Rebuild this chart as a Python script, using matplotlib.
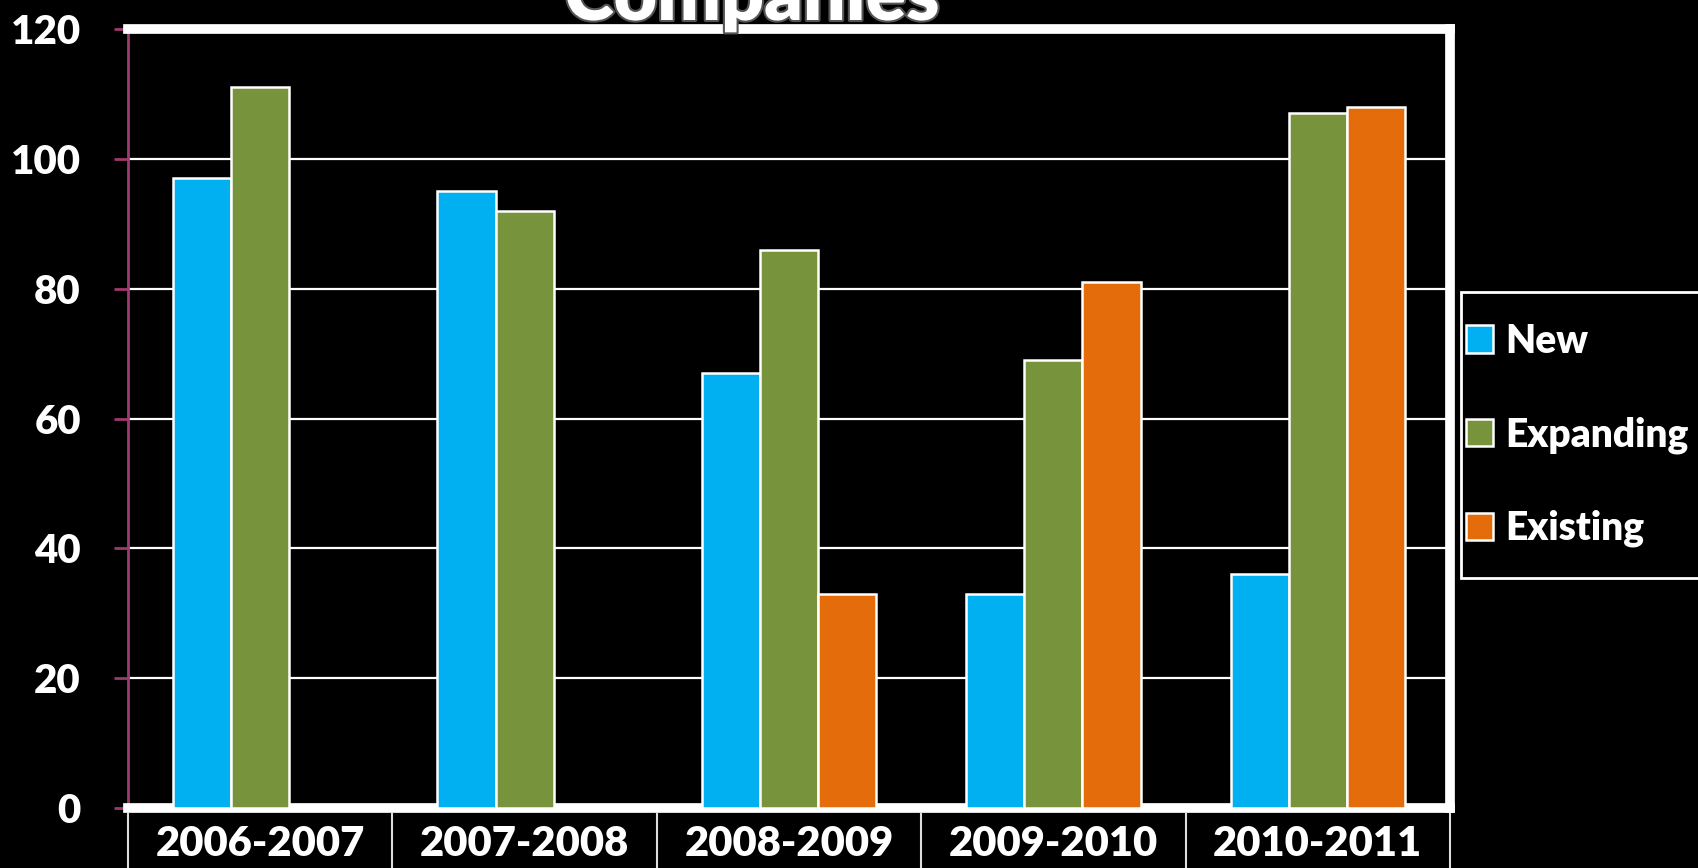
import numpy as np
import matplotlib.pyplot as plt
import matplotlib.patheffects as pe
from matplotlib.patches import Rectangle

plt.rcParams['font.family'] = ['Lato', 'DejaVu Sans']
plt.rcParams['font.weight'] = 'heavy'

# data
years = ['2006-2007', '2007-2008', '2008-2009', '2009-2010', '2010-2011']
new = [97, 95, 67, 33, 36]
expanding = [111, 92, 86, 69, 107]
existing = [np.nan, np.nan, 33, 81, 108]
series_names = ['New', 'Expanding', 'Existing']
colors = ['#00B0F0', '#77933C', '#E46C0A']
yticks = [0, 20, 40, 60, 80, 100, 120]

W, H = 1699, 868
fig = plt.figure(figsize=(W / 100, H / 100), dpi=100, facecolor='black')
ax = fig.add_axes([128 / W, (H - 808) / H, (1450 - 128) / W, (808 - 29) / H])
ax.set_facecolor('black')

x = np.arange(len(years))
bw = 0.22
handles = []
for i, (vals, col, name) in enumerate(zip([new, expanding, existing], colors, series_names)):
    b = ax.bar(x + (i - 1) * bw, vals, bw, color=col, edgecolor='white',
               linewidth=1.8, label=name, zorder=3)
    handles.append(b)

ax.set_xlim(-0.5, len(years) - 0.5)
ax.set_ylim(0, 120)
ax.set_yticks(yticks)
ax.set_yticklabels([str(t) for t in yticks], color='white', fontsize=29, fontweight='heavy')
ax.yaxis.grid(True, color='white', linewidth=1.6, zorder=0)
ax.set_axisbelow(True)

# frame: thick white on top/right/bottom, magenta axis on the left
for s in ['top', 'right', 'bottom']:
    ax.spines[s].set_color('white')
    ax.spines[s].set_linewidth(7)
ax.spines['left'].set_color('#9E3A6E')
ax.spines['left'].set_linewidth(2)
ax.tick_params(axis='y', colors='#9E3A6E', length=10, width=2, pad=24,
               labelcolor='white')
ax.set_xticks([])

# category label boxes below the plot
for k in range(len(years) + 1):
    ax.plot([k - 0.5, k - 0.5], [-1.0, -10], color='#DDDDDD', linewidth=1.5,
            clip_on=False, zorder=1)
for k, lab in enumerate(years):
    ax.text(k, -5.6, lab, ha='center', va='center', color='white',
            fontsize=30, fontweight='heavy', clip_on=False)

# title (mostly cut off at the top)
fig.text(752 / W, (H - 20) / H, 'Companies', ha='center', va='baseline',
         color='white', fontsize=54, fontweight='heavy',
         path_effects=[pe.withStroke(linewidth=3, foreground='#555555')])

# legend box running off the right edge
fig.patches.append(Rectangle((1461 / W, (H - 578) / H), 300 / W, 286 / H,
                             transform=fig.transFigure, facecolor='black',
                             edgecolor='white', linewidth=2))
leg = fig.legend(handles=handles, labels=series_names, loc='center left',
                 bbox_to_anchor=(1466 / W, (H - 435) / H), frameon=False,
                 fontsize=28, labelcolor='white', handlelength=0.7,
                 handleheight=0.7, handletextpad=0.3, labelspacing=1.45,
                 borderpad=0, borderaxespad=0)
for t in leg.get_texts():
    t.set_fontweight('heavy')

fig.savefig('out.png', dpi=100, facecolor='black')
